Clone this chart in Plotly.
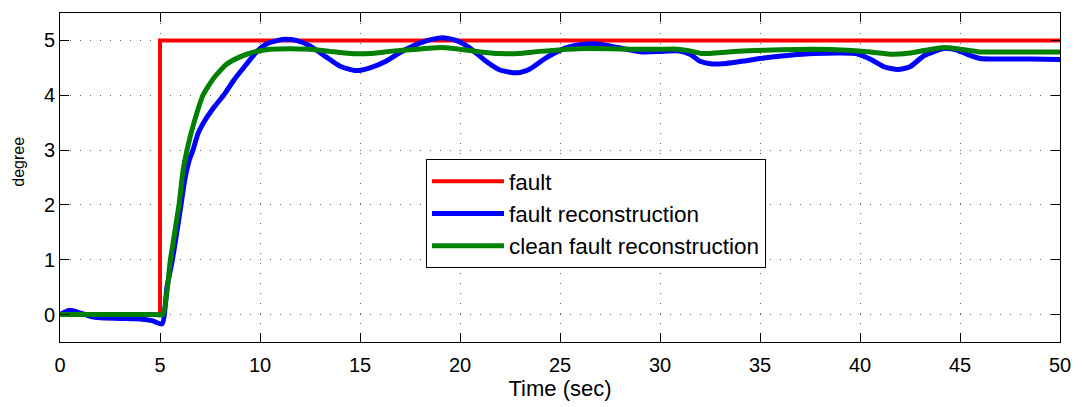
import plotly.graph_objects as go

# ---- data ----
fault_t = [0, 5, 5, 50]
fault_y = [0, 0, 5, 5]

recon_t = [0, 0.5, 1.0, 1.5, 2.0, 3.0, 4.0, 4.6, 5.1, 5.35, 5.62, 6.05, 6.23, 6.45,
           6.65, 6.9, 7.23, 7.7, 8.18, 8.7, 9.31, 9.8, 10.3, 10.9, 11.3, 11.8, 12.5,
           13.3, 14.0, 14.8, 15.5, 16.3, 17.2, 18.2, 19.1, 19.8, 20.5, 21.3, 22.0,
           22.85, 23.5, 24.3, 25.2, 26.0, 26.7, 27.5, 28.3, 29.1, 30.0, 30.9, 31.5,
           32.0, 32.6, 33.3, 34.3, 35.2, 36.5, 37.7, 39.0, 39.8, 40.5, 41.2, 41.9,
           42.5, 43.2, 44.2, 44.8, 45.4, 46.0, 47.0, 48.5, 50]
recon_y = [0, 0.08, 0.03, -0.03, -0.06, -0.07, -0.08, -0.11, -0.17, 0.5, 1.0, 2.0, 2.44, 2.8,
           3.0, 3.3, 3.53, 3.78, 4.0, 4.28, 4.56, 4.78, 4.93, 5.0, 5.02, 5.0, 4.9,
           4.7, 4.53, 4.45, 4.5, 4.62, 4.82, 4.98, 5.05, 5.0, 4.86, 4.62, 4.46,
           4.41, 4.48, 4.68, 4.85, 4.92, 4.94, 4.9, 4.84, 4.79, 4.8, 4.81, 4.75,
           4.62, 4.57, 4.58, 4.63, 4.68, 4.73, 4.76, 4.77, 4.76, 4.66, 4.52, 4.47,
           4.52, 4.72, 4.85, 4.83, 4.74, 4.67, 4.66, 4.66, 4.65]

clean_t = [0, 1, 2, 3, 4, 4.8, 5.15, 5.52, 5.95, 6.15, 6.35, 6.7, 7.15, 7.7, 8.31, 9.0, 9.81, 10.5,
           11.5, 12.5, 13.5, 14.5, 15.5, 16.5, 17.5, 19.1, 20.0, 21.0, 22.0, 22.9,
           24.0, 25.9, 27.5, 28.5, 30.0, 30.9, 31.6, 32.1, 33.4, 34.4, 36.0, 37.7,
           39.4, 40.5, 41.5, 42.3, 43.3, 44.2, 45.0, 46.0, 48.0, 50]
clean_y = [0, 0, 0, 0, 0, 0, 0, 1.0, 2.0, 2.62, 3.0, 3.5, 4.0, 4.32, 4.56, 4.7, 4.8, 4.84,
           4.85, 4.84, 4.8, 4.76, 4.76, 4.8, 4.83, 4.87, 4.84, 4.79, 4.76, 4.76,
           4.8, 4.85, 4.85, 4.84, 4.84, 4.84, 4.8, 4.76, 4.79, 4.81, 4.83, 4.84,
           4.82, 4.79, 4.75, 4.76, 4.82, 4.87, 4.84, 4.79, 4.79, 4.79]

x_ticks = [0, 5, 10, 15, 20, 25, 30, 35, 40, 45, 50]
y_ticks = [0, 1, 2, 3, 4, 5]

FONT = "Liberation Sans, Arial, sans-serif"

fig = go.Figure()
fig.add_trace(go.Scatter(x=fault_t, y=fault_y, mode="lines", name="fault",
                         line=dict(color="#ff0000", width=4)))
fig.add_trace(go.Scatter(x=recon_t, y=recon_y, mode="lines", name="fault reconstruction",
                         line=dict(color="#0000ff", width=5, shape="spline", smoothing=0.6)))
fig.add_trace(go.Scatter(x=clean_t, y=clean_y, mode="lines", name="clean fault reconstruction",
                         line=dict(color="#008000", width=5, shape="spline", smoothing=0.5)))

axis_common = dict(
    showline=True, linecolor="black", linewidth=1, mirror="ticks",
    ticks="inside", ticklen=9, tickcolor="black", tickwidth=1,
    showgrid=True, gridcolor="rgba(0,0,0,0.6)", griddash="1px,9px", gridwidth=1,
    zeroline=False, tickfont=dict(family=FONT, size=20, color="black"),
)

fig.update_xaxes(range=[0, 50], tickvals=x_ticks, ticklabelstandoff=5,
                 title=dict(text="Time (sec)", font=dict(family=FONT, size=22, color="black"), standoff=0),
                 **axis_common)
fig.update_yaxes(range=[-0.5, 5.5], tickvals=y_ticks, **axis_common)

# y-axis label placed as rotated text to the left of the tick labels
fig.add_annotation(text="degree", xref="paper", yref="paper", x=-0.041, y=0.548,
                   xanchor="center", yanchor="middle", textangle=-90, showarrow=False,
                   font=dict(family=FONT, size=16, color="black"))

fig.update_layout(
    width=1083, height=407,
    margin=dict(l=60, r=20, t=12, b=65),
    plot_bgcolor="white", paper_bgcolor="white",
    font=dict(family=FONT, color="black"),
    legend=dict(x=0.366, y=0.556, xanchor="left", yanchor="top",
                bgcolor="white", bordercolor="black", borderwidth=1,
                font=dict(family=FONT, size=22.5, color="black"),
                itemwidth=72),
    showlegend=True,
)

fig.write_html("out.html")
